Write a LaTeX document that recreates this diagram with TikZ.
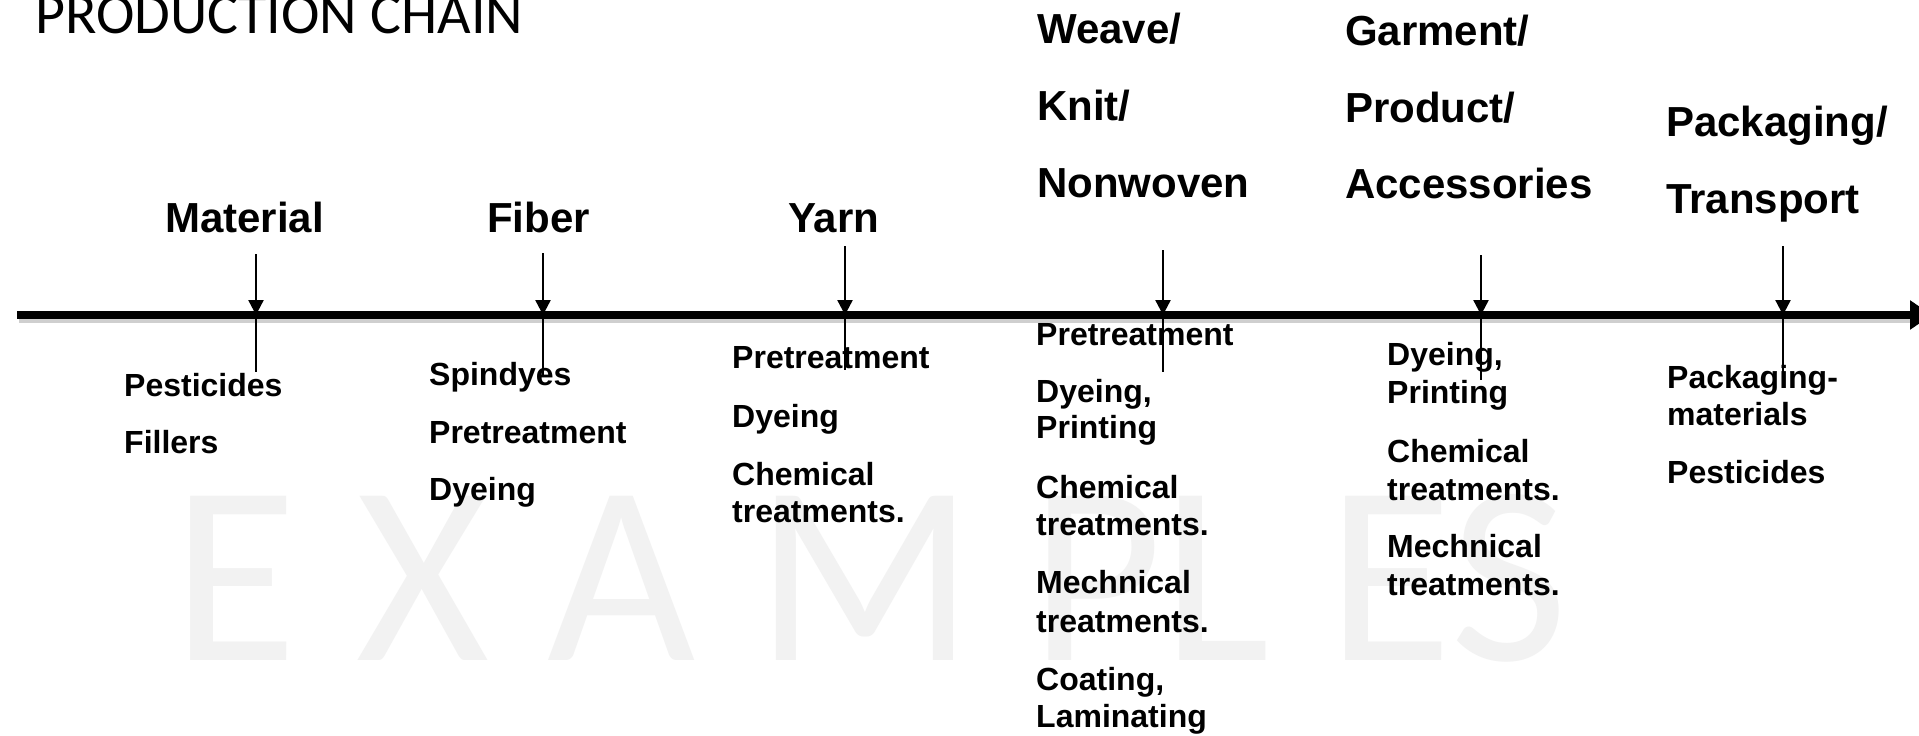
\documentclass[tikz,border=0pt]{standalone}
\usepackage{fontspec}
\setmainfont{Liberation Sans}
\newfontfamily\calib{Carlito}
\usetikzlibrary{arrows.meta}
\definecolor{wmgray}{HTML}{F2F2F2}
\definecolor{shadowgray}{HTML}{B0B0B0}
\begin{document}
\begin{tikzpicture}[x=1pt,y=-1pt,
  head/.style={font=\fontsize{42}{50}\selectfont\bfseries, anchor=base west, inner sep=0pt},
  item/.style={font=\fontsize{32}{37}\selectfont\bfseries, anchor=base west, inner sep=0pt},
  wmark/.style={font=\calib\fontsize{256}{256}\selectfont, text=wmgray, anchor=base west, inner sep=0pt},
  titlestyle/.style={font=\calib\fontsize{58}{60}\selectfont, anchor=base west, inner sep=0pt},
  tick/.style={line width=2.4pt, -{Triangle[length=15pt,width=15pt]}},
  stem/.style={line width=2.4pt},
  axis/.style={line width=7.5pt, -{Triangle[length=22pt,width=28pt]}},
  axshadow/.style={line width=6pt, shadowgray, opacity=0.6}]
\useasboundingbox (0,0) rectangle (1919,736);
\fill[white] (0,0) rectangle (1919,736);

% watermark
\node[wmark] (w1) at (172,660) {E};
\node[wmark] (w2) at (356,660) {X};
\node[wmark] (w3) at (547,660) {A};
\node[wmark] (w4) at (755,660) {M};
\node[wmark] (w5) at (1030,660) {P};
\node[wmark] (w6) at (1162,660) {L};
\node[wmark] (w7) at (1327,660) {E};
\node[wmark] (w8) at (1450,660) {S};

% title
\node[titlestyle] (title) at (35,33) {PRODUCTION CHAIN};

% axis
\coordinate (axL) at (17,315);
\coordinate (axR) at (1932,315);
\coordinate (axLs) at (19,320);
\coordinate (axRs) at (1912,320);
\draw[axshadow] (axLs) -- (axRs);
\draw[axis] (axL) -- (axR);

% tick points
\coordinate (tMat) at (256,254); \coordinate (aMat) at (256,315); \coordinate (bMat) at (256,372);
\coordinate (tFib) at (543,253); \coordinate (aFib) at (543,315); \coordinate (bFib) at (543,377);
\coordinate (tYarn) at (845,246); \coordinate (aYarn) at (845,315); \coordinate (bYarn) at (845,370);
\coordinate (tWea) at (1163,250); \coordinate (aWea) at (1163,315); \coordinate (bWea) at (1163,372);
\coordinate (tGar) at (1481,255); \coordinate (aGar) at (1481,315); \coordinate (bGar) at (1481,380);
\coordinate (tPac) at (1783,246); \coordinate (aPac) at (1783,315); \coordinate (bPac) at (1783,375);

% headings
\node[head] (hMat) at (165,232) {Material};
\node[head] (hFib) at (487,232) {Fiber};
\node[head] (hYarn) at (788,232) {Yarn};
\node[head] (hW1) at (1037,43) {Weave/};
\node[head] (hW2) at (1037,120) {Knit/};
\node[head] (hW3) at (1037,197) {Nonwoven};
\node[head] (hG1) at (1345,45) {Garment/};
\node[head] (hG2) at (1345,122) {Product/};
\node[head] (hG3) at (1345,198) {Accessories};
\node[head] (hP1) at (1666,136) {Packaging/};
\node[head] (hP2) at (1666,213) {Transport};

% items: Material
\node[item] (m1) at (124,396) {Pesticides};
\node[item] (m2) at (124,453) {Fillers};
% Fiber
\node[item] (f1) at (429,385) {Spindyes};
\node[item] (f2) at (429,443) {Pretreatment};
\node[item] (f3) at (429,500) {Dyeing};
% Yarn
\node[item] (y1) at (732,368) {Pretreatment};
\node[item] (y2) at (732,427) {Dyeing};
\node[item] (y3) at (732,485) {Chemical};
\node[item] (y4) at (732,522) {treatments.};
% Weave
\node[item] (v1) at (1036,345) {Pretreatment};
\node[item] (v2) at (1036,402) {Dyeing,};
\node[item] (v3) at (1036,438) {Printing};
\node[item] (v4) at (1036,498) {Chemical};
\node[item] (v5) at (1036,535) {treatments.};
\node[item] (v6) at (1036,593) {Mechnical};
\node[item] (v7) at (1036,632) {treatments.};
\node[item] (v8) at (1036,690) {Coating,};
\node[item] (v9) at (1036,727) {Laminating};
% Garment
\node[item] (g1) at (1387,365) {Dyeing,};
\node[item] (g2) at (1387,403) {Printing};
\node[item] (g3) at (1387,462) {Chemical};
\node[item] (g4) at (1387,500) {treatments.};
\node[item] (g5) at (1387,557) {Mechnical};
\node[item] (g6) at (1387,595) {treatments.};
% Packaging
\node[item] (p1) at (1667,388) {Packaging-};
\node[item] (p2) at (1667,425) {materials};
\node[item] (p3) at (1667,483) {Pesticides};

% ticks
\foreach \k in {Mat,Fib,Yarn,Wea,Gar,Pac}{
  \draw[tick] (t\k) -- (a\k);
  \draw[stem] (a\k) -- (b\k);
}
\end{tikzpicture}
\end{document}
